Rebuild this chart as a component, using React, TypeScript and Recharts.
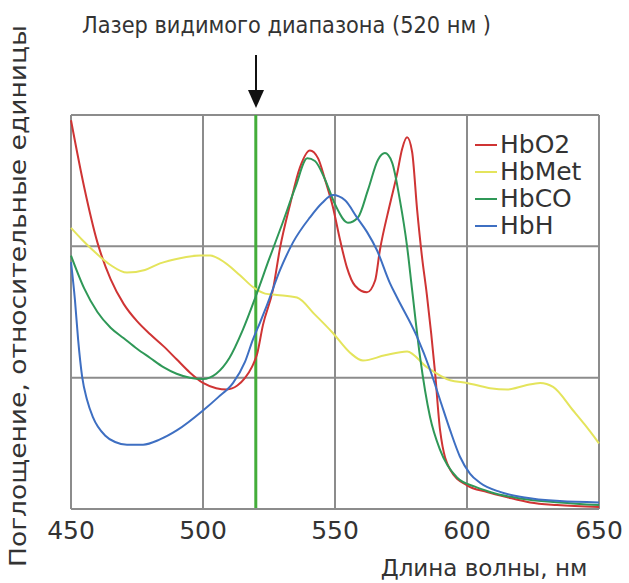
import React from 'react';
import { LineChart, Line, XAxis, YAxis, CartesianGrid, ReferenceLine } from 'recharts';

const wavelengthTicks = [450, 500, 550, 600, 650];
const absorbanceTicks = [0, 1, 2, 3];
const laserWavelength = 520;

const hbo2X = [450, 455, 460, 465, 470, 475, 480, 485, 490, 495, 500, 505, 509, 513, 516, 518.5, 520.5, 522.7, 526.5, 529.2, 533.0, 536.7, 540.5, 543.6, 546.2, 549.2, 551.9, 554.5, 557.6, 562.1, 565.2, 567.0, 570.8, 573.5, 575.4, 577.3, 579.2, 581.1, 582.9, 584.8, 587.9, 589.8, 593.6, 600.0, 607.6, 615.2, 623.9, 634.1, 650];
const hbo2Y = [2.96, 2.45, 2.03, 1.75, 1.56, 1.43, 1.33, 1.24, 1.14, 1.04, 0.96, 0.92, 0.91, 0.94, 1.00, 1.08, 1.18, 1.40, 1.67, 1.99, 2.32, 2.60, 2.73, 2.67, 2.51, 2.30, 2.05, 1.84, 1.70, 1.65, 1.74, 1.97, 2.32, 2.55, 2.74, 2.83, 2.72, 2.28, 1.93, 1.63, 1.04, 0.60, 0.30, 0.18, 0.13, 0.09, 0.05, 0.03, 0.015];

const hbmetX = [450, 454.2, 458.3, 464.8, 471.2, 478.0, 483.7, 491.3, 498.9, 502.7, 506.4, 514.0, 518.9, 523.5, 528.0, 535.6, 542.4, 549.2, 555.7, 560.6, 568.9, 577.3, 584.8, 593.6, 600, 608.7, 615.2, 622.0, 627.7, 632.6, 640.2, 644.7, 650];
const hbmetY = [2.14, 2.05, 1.97, 1.86, 1.80, 1.82, 1.87, 1.91, 1.93, 1.93, 1.90, 1.78, 1.69, 1.64, 1.63, 1.61, 1.48, 1.34, 1.19, 1.13, 1.17, 1.20, 1.08, 0.98, 0.96, 0.92, 0.91, 0.94, 0.96, 0.93, 0.75, 0.64, 0.50];

const hbcoX = [450, 455, 460, 465, 470, 475, 480, 485, 490, 495, 500, 505, 510, 515, 520, 525, 530, 535, 539.5, 542.4, 546.2, 550.0, 554.9, 558.7, 562.5, 566.3, 568.9, 571.6, 574.6, 577.3, 579.2, 582.2, 586.0, 589.8, 596.2, 603.0, 608.7, 620.1, 635.2, 650];
const hbcoY = [1.93, 1.68, 1.50, 1.38, 1.30, 1.22, 1.15, 1.08, 1.03, 1.00, 0.99, 1.03, 1.15, 1.36, 1.62, 1.90, 2.17, 2.45, 2.67, 2.65, 2.51, 2.32, 2.18, 2.22, 2.43, 2.66, 2.71, 2.64, 2.35, 2.00, 1.67, 1.16, 0.70, 0.45, 0.24, 0.17, 0.13, 0.08, 0.05, 0.03];

const hbhX = [450, 451.5, 452.7, 454.2, 456.1, 458.3, 462.9, 466.7, 471.2, 477.3, 483.7, 490.2, 500, 505.7, 511.4, 515.9, 518.9, 521.6, 524.2, 529.2, 534.1, 540.5, 545.1, 549.2, 553.8, 558.3, 562.1, 565.9, 570.8, 573.5, 581.1, 586.0, 589.8, 593.6, 597.3, 601.1, 604.9, 612.5, 621.2, 635.2, 650];
const hbhY = [1.88, 1.59, 1.29, 1.01, 0.83, 0.70, 0.56, 0.51, 0.49, 0.49, 0.53, 0.60, 0.75, 0.85, 0.96, 1.12, 1.29, 1.42, 1.55, 1.82, 2.03, 2.22, 2.33, 2.39, 2.35, 2.22, 2.11, 1.97, 1.72, 1.61, 1.31, 1.06, 0.83, 0.60, 0.40, 0.27, 0.20, 0.13, 0.09, 0.06, 0.05];

const toPoints = (xs: number[], ys: number[]) => xs.map((x, i) => ({ x, y: ys[i] }));

const series = [
  { name: 'HbO2', color: '#cf3434', data: toPoints(hbo2X, hbo2Y) },
  { name: 'HbMet', color: '#e4e45c', data: toPoints(hbmetX, hbmetY) },
  { name: 'HbCO', color: '#2f9857', data: toPoints(hbcoX, hbcoY) },
  { name: 'HbH', color: '#3e6fc2', data: toPoints(hbhX, hbhY) },
];

const FONT = 'DejaVu Sans';
const TEXT = '#333333';

export default function App() {
  return (
    <div style={{ position: 'absolute', left: 0, top: 0, width: 629, height: 583, background: '#fff' }}>
      <LineChart
        width={629}
        height={583}
        margin={{ top: 115, right: 30, bottom: 0, left: 71 }}
      >
        <CartesianGrid stroke="#8c8c8c" strokeWidth={2} />
        <XAxis
          type="number"
          dataKey="x"
          domain={[450, 650]}
          ticks={wavelengthTicks}
          allowDuplicatedCategory={false}
          height={74}
          tickLine={false}
          axisLine={{ stroke: '#8c8c8c', strokeWidth: 2 }}
          tick={{ fontFamily: FONT, fontSize: 25, fill: TEXT }}
          tickMargin={6}
          interval={0}
        />
        <YAxis type="number" domain={[0, 3]} ticks={absorbanceTicks} hide width={0} />
        <ReferenceLine x={laserWavelength} stroke="#43ad3a" strokeWidth={3} />
        {series.map((s) => (
          <Line
            key={s.name}
            name={s.name}
            data={s.data}
            dataKey="y"
            type="monotone"
            stroke={s.color}
            strokeWidth={2}
            dot={false}
            activeDot={false}
            isAnimationActive={false}
          />
        ))}
      </LineChart>
      <div
        style={{
          position: 'absolute',
          left: 475,
          top: 131,
          fontFamily: FONT,
          fontSize: 25,
          color: TEXT,
          lineHeight: '27px',
        }}
      >
        {series.map((s) => (
          <div key={s.name} style={{ display: 'flex', alignItems: 'center', whiteSpace: 'nowrap' }}>
            <span style={{ display: 'inline-block', width: 22, height: 2, background: s.color, marginRight: 3 }} />
            <span>{s.name}</span>
          </div>
        ))}
      </div>
      <svg
        width={629}
        height={583}
        style={{ position: 'absolute', left: 0, top: 0, pointerEvents: 'none' }}
      >
        <text x={82} y={33} fontFamily={FONT} fontSize={23} fill={TEXT} textLength={409} lengthAdjust="spacingAndGlyphs">
          Лазер видимого диапазона (520 нм )
        </text>
        <line x1={256} y1={55} x2={256} y2={95} stroke="#111" strokeWidth={2} />
        <polygon points="248,90 264,90 256,108" fill="#111" />
        <text
          x={0}
          y={0}
          transform="translate(26,296) rotate(-90)"
          textAnchor="middle"
          fontFamily={FONT}
          fontSize={23}
          fill={TEXT}
          textLength={542}
          lengthAdjust="spacingAndGlyphs"
        >
          Поглощение, относительные единицы
        </text>
        <text x={484} y={576} textAnchor="middle" fontFamily={FONT} fontSize={23} fill={TEXT}>
          Длина волны, нм
        </text>
      </svg>
    </div>
  );
}
